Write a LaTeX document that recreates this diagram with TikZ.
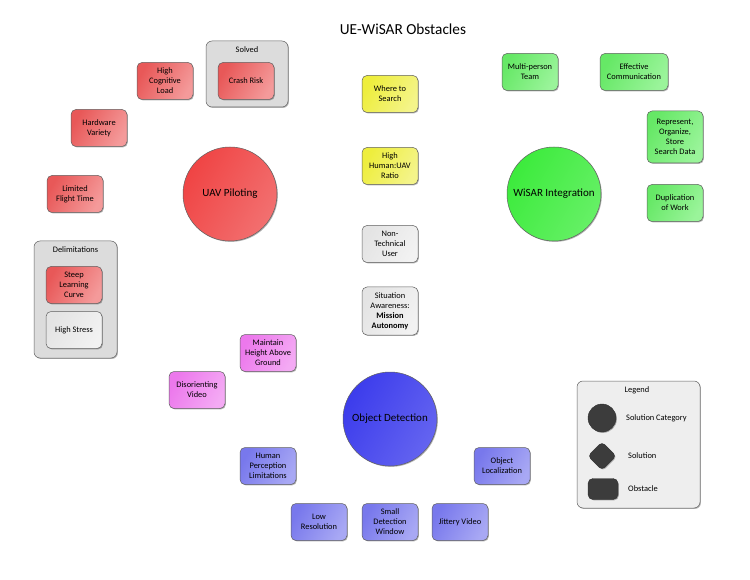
\documentclass[tikz,border=0pt]{standalone}
\usepackage{fontspec}
\setmainfont{Carlito}
\usetikzlibrary{shadows}
\definecolor{pilotRed}{HTML}{E85858}
\definecolor{pilotRedLight}{HTML}{F49A9A}
\definecolor{pilotCircle}{HTML}{F04444}
\definecolor{pilotCircleLight}{HTML}{F27070}
\definecolor{wisarGreen}{HTML}{66E866}
\definecolor{wisarGreenLight}{HTML}{9AF49A}
\definecolor{wisarCircle}{HTML}{3CEB3C}
\definecolor{wisarCircleLight}{HTML}{66F066}
\definecolor{detectBlue}{HTML}{7878EC}
\definecolor{detectBlueLight}{HTML}{A8A8F4}
\definecolor{detectCircle}{HTML}{3C3CEC}
\definecolor{detectCircleLight}{HTML}{6464F0}
\definecolor{videoPink}{HTML}{EC78EC}
\definecolor{videoPinkLight}{HTML}{F4AAF4}
\definecolor{sharedYellow}{HTML}{EEEE3C}
\definecolor{sharedYellowLight}{HTML}{F4F48A}
\definecolor{plainGrey}{HTML}{E4E4E4}
\definecolor{plainGreyLight}{HTML}{F2F2F2}
\definecolor{groupGrey}{HTML}{DCDCDC}
\definecolor{legendGrey}{HTML}{EEEEEE}
\definecolor{markDark}{HTML}{3C3C3C}
\definecolor{boxLine}{HTML}{606060}
\tikzset{
  softshadow/.style={drop shadow={shadow xshift=0.9pt, shadow yshift=-0.9pt, opacity=0.3, fill=black}},
  obstbox/.style 2 args={rectangle, rounded corners=5pt, draw=boxLine, left color=#1, right color=#2, shading angle=60, line width=0.5pt, align=center, font=\fontsize{8.4}{10}\selectfont, minimum width=56pt, minimum height=37pt, inner sep=1pt, softshadow},
  catcircle/.style 2 args={circle, draw=boxLine, left color=#1, right color=#2, shading angle=60, line width=0.5pt, align=center, font=\fontsize{11}{13}\selectfont, minimum size=94pt, inner sep=0pt, softshadow},
  groupbox/.style={rectangle, rounded corners=6pt, draw=boxLine, fill=#1, line width=0.5pt, softshadow},
  grouplabel/.style={font=\fontsize{8.4}{10}\selectfont, inner sep=1pt},
  legendmark/.style={draw=markDark!80!black, fill=markDark, softshadow},
}

\begin{document}
\begin{tikzpicture}[x=1pt,y=-1pt]
  \useasboundingbox (0,0) rectangle (750,580);
  \node[font=\fontsize{15.3}{18}\selectfont] (title) at (403,29) {UE-WiSAR Obstacles};

  % --- solution categories ---
  \node[catcircle={pilotCircle}{pilotCircleLight}] (uav) at (230,194) {UAV Piloting};
  \node[catcircle={wisarCircle}{wisarCircleLight}] (wisar) at (554,194) {WiSAR Integration};
  \node[catcircle={detectCircle}{detectCircleLight}] (detect) at (390,419) {Object Detection};

  % --- groups ---
  \node[groupbox=groupGrey, minimum width=82pt, minimum height=66pt] (solved) at (247,74) {};
  \node[grouplabel] (solvedlbl) at (247,50) {Solved};
  \node[groupbox=groupGrey, minimum width=83pt, minimum height=117pt] (delim) at (75.5,299.5) {};
  \node[grouplabel] (delimlbl) at (75.5,250) {Delimitations};

  % --- UAV piloting obstacles ---
  \foreach \n/\x/\y/\t in {cogload/165/81/{High\\Cognitive\\Load}, crash/246/81/{Crash Risk}, hardware/99/128/{Hardware\\Variety}, flight/75/194/{Limited\\Flight Time}, steep/74/285/{Steep\\Learning\\Curve}}
    { \node[obstbox={pilotRed}{pilotRedLight}] (\n) at (\x,\y) {\t}; }
  \node[obstbox={plainGrey}{plainGreyLight}] (stress) at (74,330) {High Stress};

  % --- shared obstacles ---
  \node[obstbox={sharedYellow}{sharedYellowLight}] (where) at (390,94) {Where to\\Search};
  \node[obstbox={sharedYellow}{sharedYellowLight}] (ratio) at (390,166) {High\\Human:UAV\\Ratio};
  \node[obstbox={plainGrey}{plainGreyLight}] (nontech) at (390,244) {Non-\\Technical\\User};
  \node[obstbox={plainGrey}{plainGreyLight}, minimum height=48pt] (aware) at (390,311) {Situation\\Awareness:\\\textbf{Mission}\\\textbf{Autonomy}};

  % --- WiSAR integration obstacles ---
  \node[obstbox={wisarGreen}{wisarGreenLight}] (team) at (530,72) {Multi-person\\Team};
  \node[obstbox={wisarGreen}{wisarGreenLight}, minimum width=68pt] (comm) at (634,72) {Effective\\Communication};
  \node[obstbox={wisarGreen}{wisarGreenLight}, minimum height=52pt] (store) at (675,137) {Represent,\\Organize,\\Store\\Search Data};
  \node[obstbox={wisarGreen}{wisarGreenLight}] (dup) at (675,203) {Duplication\\of Work};

  % --- object detection obstacles ---
  \node[obstbox={videoPink}{videoPinkLight}] (height) at (268,353) {Maintain\\Height Above\\Ground};
  \node[obstbox={videoPink}{videoPinkLight}] (disorient) at (197,390) {Disorienting\\Video};
  \foreach \n/\x/\y/\t in {perception/268/466/{Human\\Perception\\Limitations}, lowres/319/522/{Low\\Resolution}, window/390/522/{Small\\Detection\\Window}, jitter/460/522/{Jittery Video}, localize/502/466/{Object\\Localization}}
    { \node[obstbox={detectBlue}{detectBlueLight}] (\n) at (\x,\y) {\t}; }

  % --- legend ---
  \node[groupbox=legendGrey, minimum width=123pt, minimum height=127pt] (legend) at (638.5,444.5) {};
  \node[grouplabel] (legendlbl) at (637,390) {Legend};
  \node[legendmark, circle, minimum size=28pt] (lcat) at (602,418) {};
  \node[legendmark, rectangle, rounded corners=4pt, rotate=45, minimum size=20pt] (lsol) at (602,456) {};
  \node[legendmark, rectangle, rounded corners=5pt, minimum width=30pt, minimum height=21pt] (lobs) at (603,489) {};
  \node[grouplabel, anchor=west] (lcattxt) at (625,418) {Solution Category};
  \node[grouplabel, anchor=west] (lsoltxt) at (627,456) {Solution};
  \node[grouplabel, anchor=west] (lobstxt) at (627,489) {Obstacle};
\end{tikzpicture}
\end{document}
